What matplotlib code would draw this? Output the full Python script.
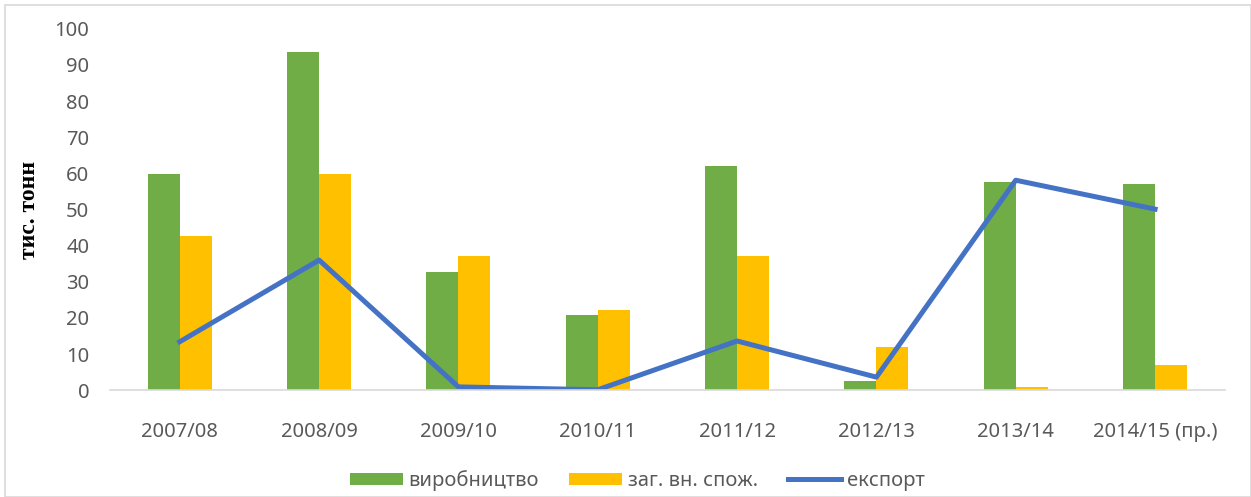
import numpy as np
import matplotlib.pyplot as plt
from matplotlib.patches import Rectangle

seasons = ["2007/08", "2008/09", "2009/10", "2010/11", "2011/12", "2012/13", "2013/14", "2014/15 (пр.)"]
production = [59.7, 93.7, 32.7, 20.7, 61.9, 2.5, 57.6, 57.0]
consumption = [42.7, 59.7, 37.0, 22.1, 37.0, 11.9, 0.8, 6.9]
export = [13.4, 36.0, 0.9, 0.1, 13.6, 3.6, 58.1, 50.1]

plt.rcParams['font.family'] = ['Noto Sans', 'DejaVu Sans']

fig = plt.figure(figsize=(12.51, 4.97), dpi=100)
ax = fig.add_axes([0.088, 0.215, 0.891, 0.727])

x = np.arange(len(seasons))
w = 0.23
b1 = ax.bar(x - w / 2, production, w, color="#70AD47", label="виробництво")
b2 = ax.bar(x + w / 2, consumption, w, color="#FFC000", label="заг. вн. спож.")
l1, = ax.plot(x, export, color="#4472C4", lw=3.6, label="експорт")

ax.set_xlim(-0.5, len(seasons) - 0.5)
ax.set_ylim(0, 100)
ax.set_yticks(range(0, 101, 10))
ax.set_xticks(x)
ax.set_xticklabels(seasons)
ax.tick_params(length=0, labelsize=14.5, colors="#595959")
ax.tick_params(axis="y", pad=15)
ax.tick_params(axis="x", pad=23)
for s in ["top", "right", "left"]:
    ax.spines[s].set_visible(False)
ax.spines["bottom"].set_color("#D9D9D9")
ax.spines["bottom"].set_linewidth(1.2)

ax.set_ylabel("тис. тонн", family="Liberation Serif", fontweight="bold", fontsize=17, labelpad=10)

leg = ax.legend([b1, b2, l1], ["виробництво", "заг. вн. спож.", "експорт"],
                loc="center", bbox_to_anchor=(0.473, -0.25), ncol=3, frameon=False,
                fontsize=14.5, labelcolor="#595959", handlelength=2.6, handleheight=0.5,
                columnspacing=1.5, handletextpad=0.3)

fig.patches.append(Rectangle((0.004, 0.0), 0.996, 0.99, transform=fig.transFigure,
                             fill=False, edgecolor="#D9D9D9", lw=1.2))

fig.savefig("out.png", dpi=100)
